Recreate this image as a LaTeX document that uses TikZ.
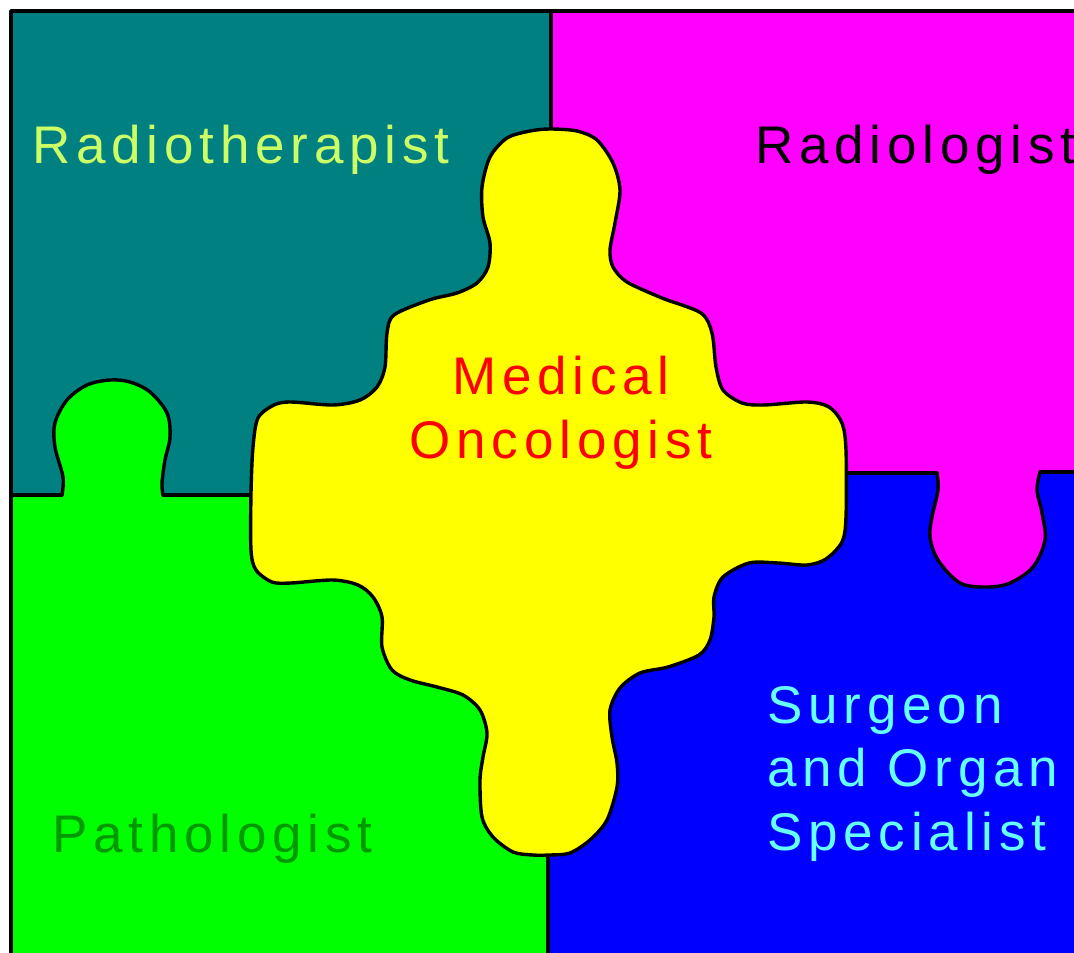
\documentclass[tikz,border=0pt]{standalone}
\usepackage{fontspec}
\newfontfamily\lblfont{Liberation Sans}[LetterSpace=11]

\definecolor{tealbg}{HTML}{008080}
\definecolor{magbg}{HTML}{FF00FF}
\definecolor{grnbg}{HTML}{00FF00}
\definecolor{blubg}{HTML}{0000FF}
\definecolor{yelbg}{HTML}{FFFF00}
\definecolor{rtxt}{HTML}{CCFF66}
\definecolor{ptxt}{HTML}{009900}
\definecolor{stxt}{HTML}{66FFFF}

\begin{document}
\begin{tikzpicture}[
  x=1pt, y=-1pt,
  edge/.style={draw=black, line width=3.4pt, line join=round, line cap=round},
  lbl/.style={font=\lblfont\fontsize{53}{63.5}\selectfont, inner sep=0pt,
              anchor=base west, align=left},
]
\clip (0,0) rectangle (1074,953);

%% ===== PIECES =====

\fill[tealbg] (11,11) rectangle (551,495);
\fill[magbg]  (551,11) rectangle (1100,472);
\fill[grnbg]  (11,495) rectangle (548,960);
\fill[blubg]  (548,472) rectangle (1100,960);

% green knob into teal
\fill[grnbg] plot[smooth, tension=0.55] coordinates {
  (62,495) (63,477) (55,447) (55,423) (67,400) (87,385) (110,380) (130,382)
  (150,392) (167,413) (170,437) (165,460) (162,483) (163,495)} -- cycle;
\draw[edge] plot[smooth, tension=0.55] coordinates {
  (62,495) (63,477) (55,447) (55,423) (67,400) (87,385) (110,380) (130,382)
  (150,392) (167,413) (170,437) (165,460) (162,483) (163,495)};

% magenta knob into blue
\fill[magbg] plot[smooth, tension=0.55] coordinates {
  (937,471) (938,490) (932,517) (930,537) (938,560) (960,583) (987,587)
  (1010,583) (1033,567) (1045,540) (1042,513) (1037,490) (1040,470)} -- cycle;
\draw[edge] plot[smooth, tension=0.55] coordinates {
  (937,473) (938,490) (932,517) (930,537) (938,560) (960,583) (987,587)
  (1010,583) (1033,567) (1045,540) (1042,513) (1037,490) (1040,472)};

%% ===== FRAME & DIVIDERS =====

\draw[edge] (11,960) -- (11,11) -- (1100,11);
\draw[edge] (551,11) -- (551,140);
\draw[edge] (548,840) -- (548,960);
\draw[edge] (11,495) -- (62,495);
\draw[edge] (163,495) -- (260,495);
\draw[edge] (830,473) -- (937,473);
\draw[edge] (1040,472) -- (1100,472);

%% ===== CENTRE PIECE =====

\filldraw[edge, fill=yelbg] plot[smooth cycle, tension=0.5] coordinates {
  (530,131) (550,129) (577,131) (597,140) (613,163) (620,190) (615,223)
  (610,250) (613,267) (627,282) (662,298) (701,313) (712,333) (716,367)
  (723,390) (742,403) (764,405) (807,402) (829,407) (842,423) (846,450)
  (846,517) (842,542) (826,559) (807,565) (778,563) (749,563) (723,577)
  (714,597) (714,617) (710,640) (699,655) (668,667) (640,673) (620,688)
  (610,710) (612,737) (617,763) (617,787) (607,820) (590,840) (570,853)
  (550,855) (533,855) (513,852) (493,837) (482,817) (480,780) (483,757)
  (487,733) (480,710) (463,695) (437,687) (410,680) (392,670) (382,647)
  (382,617) (373,597) (358,585) (333,580) (291,583) (272,582) (256,570)
  (251,550) (251,493) (253,447) (258,418) (274,405) (291,402) (333,405)
  (360,400) (377,387) (385,367) (387,333) (394,315) (429,300) (457,293)
  (477,283) (488,267) (490,243) (483,217) (482,187) (490,157) (507,138)};

%% ===== LABELS =====

\node[lbl, text=rtxt] (radther) at (32,163) {Radiotherapist};
\node[lbl, text=black] (radlog) at (755,163) {Radiologist};
\node[lbl, text=red, align=center, anchor=base] (medonc) at (561,458)
  {Medical\\Oncologist};
\node[lbl, text=ptxt] (path) at (52,852) {Pathologist};
\node[lbl, text=stxt] (surg) at (767,850)
  {Surgeon\\and Organ\\Specialist};

\end{tikzpicture}
\end{document}
